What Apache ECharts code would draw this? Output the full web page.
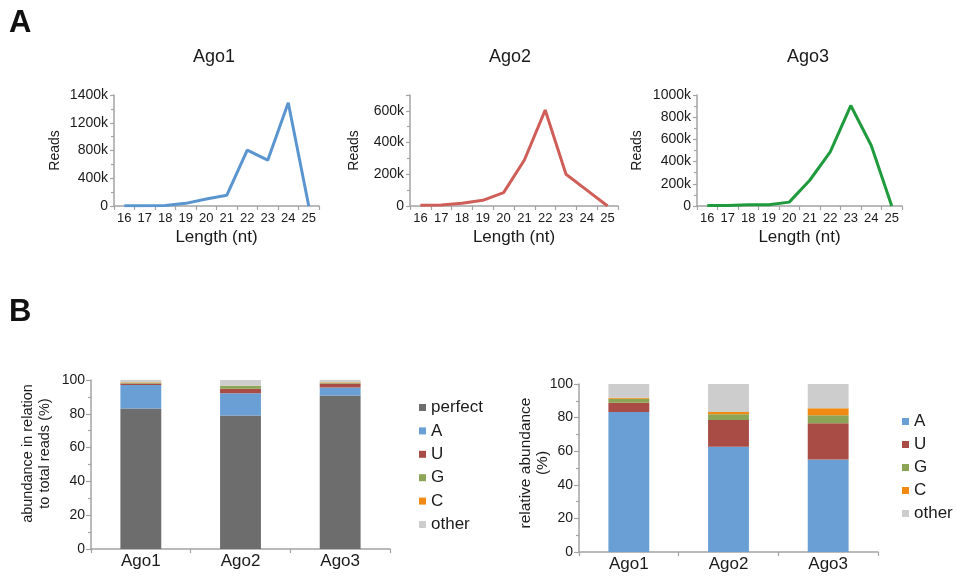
<!DOCTYPE html>
<html><head><meta charset="utf-8">
<script src="https://cdn.jsdelivr.net/npm/echarts@6/dist/echarts.min.js"></script>
<style>html,body{margin:0;padding:0;background:#fff}#c{width:957px;height:577px}</style>
</head><body><div id="c"></div>
<script>
// ---- data ----
const lengths = ['16','17','18','19','20','21','22','23','24','25'];
const ago1Reads = [5000, 5000, 8000, 38000, 101000, 154000, 805000, 660000, 1489000, 0];
const ago2Reads = [4000, 6000, 18000, 36000, 84000, 290000, 605000, 200000, 100000, 0];
const ago3Reads = [5000, 5000, 12000, 12000, 35000, 232000, 488000, 905000, 545000, 0];
const ago1Ticks = ['0','400k','800k','1200k','1400k'];
const ago2Ticks = ['0','200k','400k','600k'];
const ago3Ticks = ['0','200k','400k','600k','800k','1000k'];

const agoCats = ['Ago1','Ago2','Ago3'];
const leftPerfect = [83.2, 79.0, 90.8];
const leftA = [13.8, 13.2, 4.8];
const leftU = [1.0, 2.6, 2.4];
const leftG = [0.4, 1.6, 0.4];
const leftC = [0.2, 0.2, 0.2];
const leftOther = [1.4, 3.4, 1.4];

const rightA = [83.4, 62.6, 55.0];
const rightU = [5.4, 16.0, 21.6];
const rightG = [2.4, 3.4, 4.8];
const rightC = [0.6, 1.4, 4.2];
const rightOther = [8.2, 16.6, 14.4];
const pctTicks = ['0','20','40','60','80','100'];

// ---- style ----
const FONT = '"Liberation Sans", Arial, Helvetica, sans-serif';
const TXT = '#1a1a1a';
const AX = '#a3a3a3';
const COL = {perfect:'#6d6d6d', A:'#6a9fd6', U:'#a84c45', G:'#8ba456', C:'#f08a13', other:'#cdcdcd'};

const chart = echarts.init(document.getElementById('c'), null, {renderer:'canvas'});

function lineX(grid){
  return {type:'category', gridIndex:grid, data:lengths, boundaryGap:true,
    name:'Length (nt)', nameLocation:'middle', nameGap:23, nameMoveOverlap:false,
    nameTextStyle:{fontFamily:FONT, fontSize:17, color:TXT},
    axisLine:{lineStyle:{color:AX, width:1.5}},
    axisTick:{show:true, length:4, lineStyle:{color:AX, width:1.2}},
    axisLabel:{fontFamily:FONT, fontSize:13, color:TXT, margin:6, interval:0}};
}
function lineY(grid, max, interval, ticks, gap){
  return {type:'value', gridIndex:grid, min:0, max:max, interval:interval,
    name:'Reads', nameLocation:'middle', nameGap:gap, nameMoveOverlap:false,
    nameTextStyle:{fontFamily:FONT, fontSize:14, color:TXT},
    splitLine:{show:false},
    axisLine:{show:true, lineStyle:{color:AX, width:1.5}},
    axisTick:{show:true, length:4, lineStyle:{color:AX, width:1.2}},
    minorTick:{show:true, splitNumber:2, length:3, lineStyle:{color:AX, width:1.2}},
    axisLabel:{fontFamily:FONT, fontSize:14, color:TXT, margin:6,
      formatter:(v,i)=> (ticks[i] !== undefined ? ticks[i] : '')}};
}
function barX(grid){
  return {type:'category', gridIndex:grid, data:agoCats,
    axisLine:{lineStyle:{color:AX, width:1.5}},
    axisTick:{show:true, length:4, lineStyle:{color:AX, width:1.2}},
    axisLabel:{fontFamily:FONT, fontSize:17, color:TXT, margin:4}};
}
function barY(grid, name, gap, size, pad){
  return {type:'value', gridIndex:grid, min:0, max:100, interval:20,
    name:name, nameLocation:'middle', nameGap:gap, nameMoveOverlap:false,
    nameTextStyle:{fontFamily:FONT, fontSize:size, lineHeight:17, color:TXT, padding:[0,0,0,pad]},
    splitLine:{show:false},
    axisLine:{show:true, lineStyle:{color:AX, width:1.5}},
    axisTick:{show:true, length:5, lineStyle:{color:AX, width:1.2}},
    minorTick:{show:true, splitNumber:2, length:3, lineStyle:{color:AX, width:1.2}},
    axisLabel:{fontFamily:FONT, fontSize:14, color:TXT, margin:6,
      formatter:(v,i)=> (pctTicks[i] !== undefined ? pctTicks[i] : '')}};
}
function lineS(i, data, color){
  return {type:'line', xAxisIndex:i, yAxisIndex:i, data:data, symbol:'none',
    lineStyle:{color:color, width:3}, itemStyle:{color:color}, silent:true};
}
function barS(i, name, data, stack){
  return {type:'bar', name:name, xAxisIndex:i, yAxisIndex:i, data:data, stack:stack,
    barWidth:'41%', itemStyle:{color:COL[name]}, silent:true};
}

const option = {
  animation:false,
  backgroundColor:'#fff',
  textStyle:{fontFamily:FONT},
  graphic:[
    {type:'text', x:9, y:23, style:{text:'A', font:'bold 31px '+FONT, fill:'#111', textVerticalAlign:'middle', verticalAlign:'middle'}},
    {type:'text', x:9, y:312, style:{text:'B', font:'bold 31px '+FONT, fill:'#111', textVerticalAlign:'middle', verticalAlign:'middle'}},
    {type:'text', x:214, y:57, style:{text:'Ago1', font:'18px '+FONT, fill:TXT, textAlign:'center', align:'center', textVerticalAlign:'middle', verticalAlign:'middle'}},
    {type:'text', x:510, y:57, style:{text:'Ago2', font:'18px '+FONT, fill:TXT, textAlign:'center', align:'center', textVerticalAlign:'middle', verticalAlign:'middle'}},
    {type:'text', x:808, y:57, style:{text:'Ago3', font:'18px '+FONT, fill:TXT, textAlign:'center', align:'center', textVerticalAlign:'middle', verticalAlign:'middle'}}
  ],
  grid:[
    {left:114, top:95, width:205, height:111},
    {left:410, top:95, width:208, height:111},
    {left:697, top:95, width:205, height:111},
    {left:91, top:380, width:299, height:169},
    {left:579, top:384, width:299, height:168}
  ],
  xAxis:[lineX(0), lineX(1), lineX(2), barX(3), barX(4)],
  yAxis:[
    lineY(0, 1600000, 400000, ago1Ticks, 52),
    lineY(1, 700000, 200000, ago2Ticks, 49),
    lineY(2, 1000000, 200000, ago3Ticks, 53),
    barY(3, 'abundance in relation\nto total reads (%)', 38, 14.5, 22),
    barY(4, 'relative abundance\n(%)', 28, 15.5, 10)
  ],
  legend:[
    {orient:'vertical', left:414, top:394, itemWidth:7, itemHeight:7, itemGap:6.4, icon:'rect',
      selectedMode:false, data:['perfect','A','U','G','C','other'],
      textStyle:{fontFamily:FONT, fontSize:17, lineHeight:17, color:TXT}},
    {orient:'vertical', left:897, top:408, itemWidth:7, itemHeight:7, itemGap:6, icon:'rect',
      selectedMode:false, data:['A','U','G','C','other'],
      textStyle:{fontFamily:FONT, fontSize:17, lineHeight:17, color:TXT}}
  ],
  series:[
    lineS(0, ago1Reads, '#5b95cf'),
    lineS(1, ago2Reads, '#cf5e58'),
    lineS(2, ago3Reads, '#1f9a3c'),
    barS(3, 'perfect', leftPerfect, 'l'),
    barS(3, 'A', leftA, 'l'),
    barS(3, 'U', leftU, 'l'),
    barS(3, 'G', leftG, 'l'),
    barS(3, 'C', leftC, 'l'),
    barS(3, 'other', leftOther, 'l'),
    barS(4, 'A', rightA, 'r'),
    barS(4, 'U', rightU, 'r'),
    barS(4, 'G', rightG, 'r'),
    barS(4, 'C', rightC, 'r'),
    barS(4, 'other', rightOther, 'r')
  ]
};
chart.setOption(option);
</script>
</body></html>
